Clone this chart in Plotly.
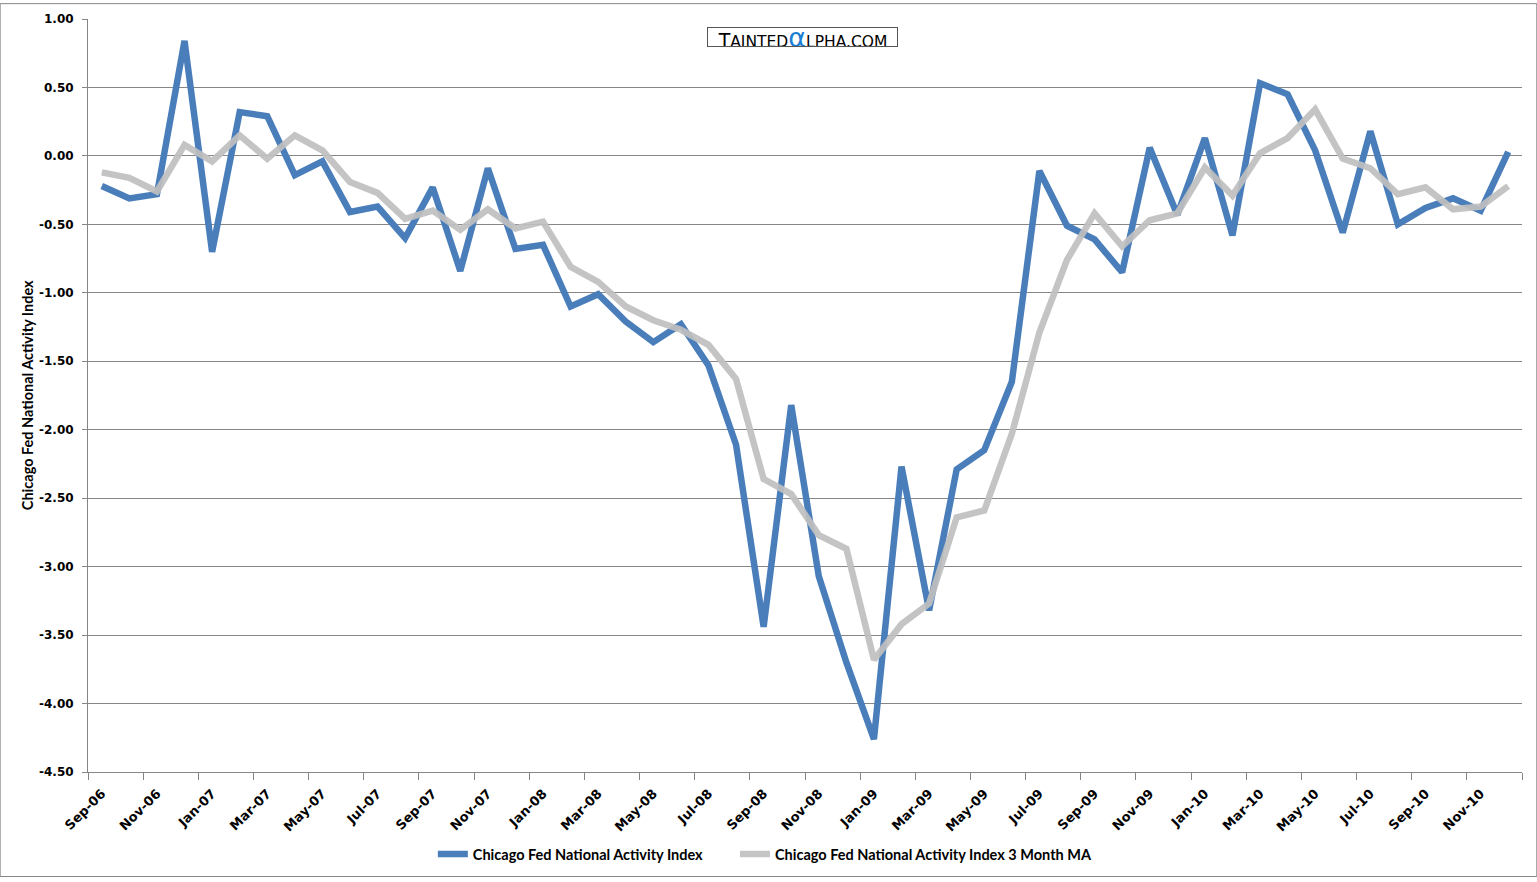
import plotly.graph_objects as go

months = ["Sep-06","Oct-06","Nov-06","Dec-06","Jan-07","Feb-07","Mar-07","Apr-07","May-07","Jun-07",
          "Jul-07","Aug-07","Sep-07","Oct-07","Nov-07","Dec-07","Jan-08","Feb-08","Mar-08","Apr-08",
          "May-08","Jun-08","Jul-08","Aug-08","Sep-08","Oct-08","Nov-08","Dec-08","Jan-09","Feb-09",
          "Mar-09","Apr-09","May-09","Jun-09","Jul-09","Aug-09","Sep-09","Oct-09","Nov-09","Dec-09",
          "Jan-10","Feb-10","Mar-10","Apr-10","May-10","Jun-10","Jul-10","Aug-10","Sep-10","Oct-10",
          "Nov-10","Dec-10"]

cfnai = [-0.22,-0.31,-0.28,0.84,-0.70,0.32,0.29,-0.14,-0.04,-0.41,
         -0.37,-0.60,-0.23,-0.84,-0.09,-0.68,-0.65,-1.10,-1.01,-1.21,
         -1.36,-1.23,-1.53,-2.11,-3.44,-1.82,-3.07,-3.70,-4.26,-2.27,
         -3.32,-2.29,-2.15,-1.65,-0.11,-0.51,-0.61,-0.85,0.06,-0.43,
         0.13,-0.58,0.53,0.45,0.04,-0.56,0.18,-0.50,-0.38,-0.31,
         -0.40,0.03]

cfnai_ma3 = [-0.12,-0.16,-0.26,0.08,-0.04,0.15,-0.02,0.15,0.04,-0.19,
             -0.27,-0.46,-0.40,-0.54,-0.39,-0.53,-0.48,-0.81,-0.92,-1.10,
             -1.20,-1.27,-1.38,-1.63,-2.36,-2.47,-2.77,-2.87,-3.68,-3.42,
             -3.27,-2.64,-2.59,-2.03,-1.29,-0.76,-0.42,-0.66,-0.47,-0.42,
             -0.085,-0.29,0.02,0.13,0.34,-0.02,-0.09,-0.28,-0.23,-0.39,
             -0.37,-0.22]

y_ticks = [1.0,0.5,0.0,-0.5,-1.0,-1.5,-2.0,-2.5,-3.0,-3.5,-4.0,-4.5]
y_labels = [f"{v:.2f}" for v in y_ticks]

series_names = ["Chicago Fed National Activity Index",
                "Chicago Fed National Activity Index 3 Month MA"]
blue = "#4a7ebb"
grey = "#c0c0c0"

idx = list(range(len(months)))
tick_idx = idx[::2]
tick_lab = months[::2]
boundaries = [i - 0.5 for i in range(0, len(months) + 1, 2)]

fig = go.Figure()
fig.add_trace(go.Scatter(x=idx, y=cfnai, mode="lines", name=series_names[0],
                         line=dict(color=blue, width=6.5), legend="legend"))
fig.add_trace(go.Scatter(x=idx, y=cfnai_ma3, mode="lines", name=series_names[1],
                         line=dict(color=grey, width=6.5), opacity=0.92, legend="legend2"))

xtickfont = dict(family="DejaVu Sans", size=13, color="black", weight="bold")
ytickfont = dict(family="DejaVu Sans", size=12, color="black", weight="bold")
legfont = dict(family="Lato", size=14.5, color="black", weight="bold")
axcol = "#868686"

fig.update_layout(
    width=1537, height=882,
    margin=dict(l=88, r=15, t=16, b=106),
    paper_bgcolor="white", plot_bgcolor="white",
    showlegend=True,
    legend=dict(orientation="h", x=(433 - 88.3) / 1433.4, xanchor="left",
                y=-0.109, yanchor="middle", font=legfont,
                itemwidth=30, bgcolor="rgba(0,0,0,0)"),
    legend2=dict(orientation="h", x=(735 - 88.3) / 1433.4, xanchor="left",
                 y=-0.109, yanchor="middle", font=legfont,
                 itemwidth=30, bgcolor="rgba(0,0,0,0)"),
    xaxis=dict(range=[-0.5, len(months) - 0.5], tickmode="array", tickvals=tick_idx,
               ticktext=tick_lab, tickangle=-45, ticks="", showgrid=False,
               zeroline=False, showline=True, linecolor=axcol, linewidth=1,
               tickfont=xtickfont, ticklabelstandoff=8,
               minor=dict(tickmode="array", tickvals=boundaries, ticks="outside",
                          ticklen=7, tickcolor=axcol, showgrid=False)),
    yaxis=dict(range=[-4.5, 1.0], tickmode="array", tickvals=y_ticks, ticktext=y_labels,
               ticks="outside", ticklen=5, tickcolor=axcol, showgrid=True,
               gridcolor=axcol, gridwidth=1, zeroline=False, showline=True,
               linecolor=axcol, linewidth=1, tickfont=ytickfont, ticklabelstandoff=6),
)

# y-axis title
fig.add_annotation(text="Chicago Fed National Activity Index", xref="paper", yref="paper",
                   x=(28 - 88.3) / 1433.4, y=0.5, textangle=-90, showarrow=False,
                   font=legfont, xanchor="center", yanchor="middle")

# watermark
fig.add_annotation(
    text=("<span style='font-size:19px'>T</span>AINTED"
          "<span style='font-size:27px;color:#1d7fd3'>α</span>"
          "LPHA.COM"),
    xref="paper", yref="paper", x=(802.5 - 88.3) / 1433.4, y=(776 - 34) / 760,
    showarrow=False, xanchor="center", yanchor="middle",
    font=dict(family="DejaVu Sans", size=15.5, color="black"),
    bordercolor="#555555", borderwidth=1, borderpad=0, bgcolor="white",
    width=189, height=18)

# outer chart border
fig.add_shape(type="rect", xref="paper", yref="paper",
              x0=(0.5 - 88.3) / 1433.4, x1=(1536.5 - 88.3) / 1433.4,
              y0=(776 - 881.5) / 760, y1=(776 - 0.5) / 760,
              line=dict(color="#868686", width=1), fillcolor="rgba(0,0,0,0)", layer="below")

fig.write_html("out.html", config={"displayModeBar": False},
               post_script="document.body.style.margin='0';document.body.style.overflow='hidden';")
